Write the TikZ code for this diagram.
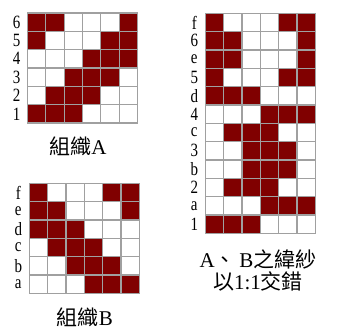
\documentclass[tikz,border=0pt]{standalone}
\usepackage{fontspec}
\usepackage{graphicx}
\setmainfont{Liberation Serif}
\newfontfamily\cjkfont{Noto Sans CJK TC}
\usepackage{tikz}
\definecolor{weft}{HTML}{800000}
\definecolor{gridline}{HTML}{A0A0A0}
\newcommand{\tallnum}[1]{\scalebox{1}[1.25]{#1}}

\begin{document}
\begin{tikzpicture}[
    x=1pt, y=1pt,
    cell/.style={draw=gridline, line width=1.2pt},
    c0/.style={fill=white},
    c1/.style={fill=weft},
    rowlbl/.style={inner sep=0pt, font=\fontsize{15}{15}\selectfont},
    title/.style={inner sep=0pt, font=\fontsize{21}{22}\selectfont, align=center}
]
\useasboundingbox (0,0) rectangle (337,332);
\def\s{18.33}

% Weave A
\begin{scope}[shift={(27.5,319)}]
\foreach \row [count=\r] in {{1,1,0,0,0,1},{1,0,0,0,1,1},{0,0,0,1,1,1},{0,0,1,1,1,0},{0,1,1,1,0,0},{1,1,1,0,0,0}}
  \foreach \v [count=\c] in \row
    \draw[cell, c\v] ({(\c-1)*\s},{-\r*\s}) rectangle ({\c*\s},{-(\r-1)*\s});
\foreach \lbl [count=\r] in {6,5,4,3,2,1}
  \node[rowlbl] (A-\lbl) at (-11,{-(\r-0.5)*\s}) {\tallnum{\lbl}};
\end{scope}
\node[title] (titleA) at (78,186) {{\cjkfont 組織}A};

% Weave B
\begin{scope}[shift={(29.3,148.7)}]
\foreach \row [count=\r] in {{1,0,0,0,1,1},{1,1,0,0,0,1},{1,1,1,0,0,0},{0,1,1,1,0,0},{0,0,1,1,1,0},{0,0,0,1,1,1}}
  \foreach \v [count=\c] in \row
    \draw[cell, c\v] ({(\c-1)*\s},{-\r*\s}) rectangle ({\c*\s},{-(\r-1)*\s});
\foreach \lbl [count=\r] in {f,e,d,c,b,a}
  \node[rowlbl] (B-\lbl) at (-11,{-(\r-0.5)*\s}) {\tallnum{\lbl}};
\end{scope}
\node[title] (titleB) at (85,14.5) {{\cjkfont 組織}B};

% A and B wefts alternated
\begin{scope}[shift={(205.3,318.7)}]
\foreach \row [count=\r] in {{1,0,0,0,1,1},{1,1,0,0,0,1},{1,1,0,0,0,1},{1,0,0,0,1,1},{1,1,1,0,0,0},{0,0,0,1,1,1},{0,1,1,1,0,0},{0,0,1,1,1,0},{0,0,1,1,1,0},{0,1,1,1,0,0},{0,0,0,1,1,1},{1,1,1,0,0,0}}
  \foreach \v [count=\c] in \row
    \draw[cell, c\v] ({(\c-1)*\s},{-\r*\s}) rectangle ({\c*\s},{-(\r-1)*\s});
\foreach \lbl [count=\r] in {f,6,e,5,d,4,c,3,b,2,a,1}
  \node[rowlbl] (AB-\r) at (-11,{-(\r-0.5)*\s}) {\tallnum{\lbl}};
\end{scope}
\node[title] (note) at (258,62) {A{\cjkfont 、}\,B{\cjkfont 之緯紗}\\{\cjkfont 以}1:1{\cjkfont 交錯}};

\end{tikzpicture}
\end{document}
